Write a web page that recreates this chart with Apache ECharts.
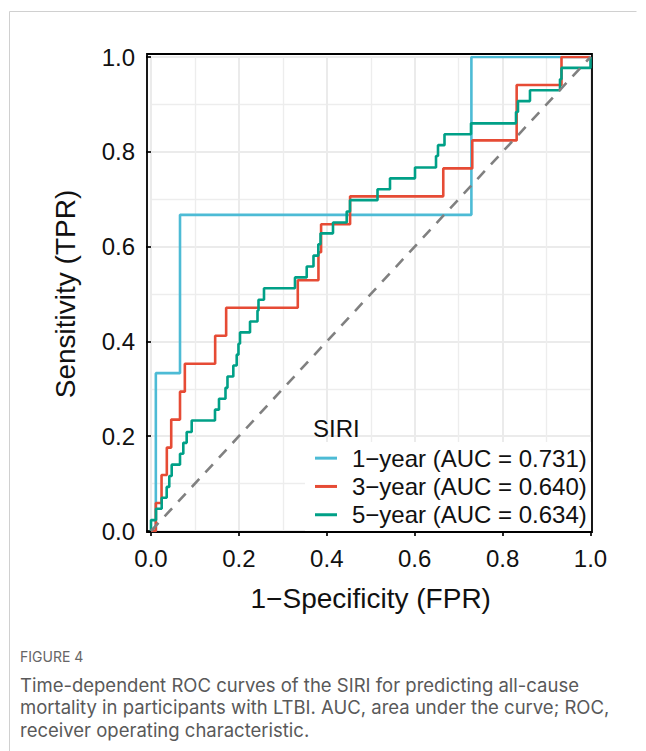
<!DOCTYPE html>
<html>
<head>
<meta charset="utf-8">
<script src="https://cdn.jsdelivr.net/npm/echarts@6/dist/echarts.min.js"></script>
<style>
html,body{margin:0;padding:0;background:#fff;}
#chart{width:646px;height:751px;}
</style>
</head>
<body>
<div id="chart"></div>
<script>
// ---- data ----
const seriesNames = ['1\u2212year (AUC = 0.731)', '3\u2212year (AUC = 0.640)', '5\u2212year (AUC = 0.634)'];
const legendTitle = 'SIRI';
const xTicks = [0, 0.2, 0.4, 0.6, 0.8, 1.0];
const yTicks = [0, 0.2, 0.4, 0.6, 0.8, 1.0];

// step points: FPR where TPR steps up, and new TPR level
const fpr1 = [0, 0.011, 0.066, 0.729, 1];
const tpr1 = [0, 0.333, 0.667, 1, 1];

const fpr3 = [0, 0.011, 0.024, 0.036, 0.046, 0.066, 0.077, 0.146, 0.171, 0.334, 0.381, 0.387, 0.453, 0.665, 0.731, 0.832, 0.934, 1];
const tpr3 = [0, 0.059, 0.118, 0.176, 0.235, 0.294, 0.353, 0.412, 0.471, 0.529, 0.588, 0.647, 0.706, 0.765, 0.824, 0.941, 1, 1];

const fpr5 = [0, 0, 0.0114, 0.0243, 0.0357, 0.0416, 0.0471, 0.066, 0.0735, 0.0812, 0.0926,
  0.1456, 0.1547, 0.1695, 0.174, 0.1873, 0.195, 0.199, 0.2025, 0.2253, 0.2423,
  0.2446, 0.2571, 0.3276, 0.3543, 0.3697, 0.3807, 0.3857, 0.4141, 0.4453, 0.4528,
  0.5154, 0.5438, 0.6007, 0.6485, 0.653, 0.6678, 0.7281, 0.8305, 0.835, 0.8623,
  0.9306, 0.934, 1.0];
const tpr5 = [0, 0.023, 0.047, 0.070, 0.093, 0.116, 0.140, 0.163, 0.186, 0.209, 0.233,
  0.256, 0.279, 0.302, 0.326, 0.349, 0.372, 0.395, 0.419, 0.442, 0.465,
  0.488, 0.512, 0.535, 0.558, 0.581, 0.605, 0.628, 0.651, 0.674, 0.698,
  0.721, 0.744, 0.767, 0.791, 0.814, 0.837, 0.860, 0.884, 0.907, 0.930,
  0.953, 0.977, 1.0];

const refX = [0, 1];
const refY = [0, 1];

const colors = ['#4DBBD5', '#E64B35', '#00A087'];

const captionHead = 'FIGURE 4';
const captionLines = [
  'Time-dependent ROC curves of the SIRI for predicting all-cause',
  'mortality in participants with LTBI. AUC, area under the curve; ROC,',
  'receiver operating characteristic.'
];

// ---- chart ----
const zip = (a, b) => a.map((v, i) => [v, b[i]]);
const FONT = '"Liberation Sans", Arial, sans-serif';
const CAPFONT = 'Inter, "Open Sans", sans-serif';
const chart = echarts.init(document.getElementById('chart'), null, {renderer: 'svg'});

const fmt = v => v.toFixed(1);

const option = {
  backgroundColor: '#fff',
  animation: false,
  title: {
    text: legendTitle, left: 308, top: 411, padding: 5,
    textStyle: {fontFamily: FONT, fontSize: 24, fontWeight: 'normal', color: '#111'}
  },
  legend: {
    orient: 'vertical', left: 305, top: 442,
    padding: [2, 4, 2, 10],
    backgroundColor: '#fff',
    itemGap: 0, itemWidth: 22, itemHeight: 3, icon: 'rect',
    textStyle: {fontFamily: FONT, fontSize: 24, color: '#111', lineHeight: 28.3, padding: [0, 0, 0, 10]},
    data: seriesNames
  },
  grid: [
    {left: 151, right: 55.5, top: 57, bottom: 220, containLabel: false},
    {left: 147, right: 54, top: 54, bottom: 219, show: true, borderColor: '#000', borderWidth: 1.8, backgroundColor: 'transparent', z: 3}
  ],
  xAxis: [
    {
      type: 'value', gridIndex: 0, min: xTicks[0], max: xTicks[xTicks.length - 1], interval: 0.2, offset: 1,
      name: '1\u2212Specificity (FPR)', nameLocation: 'middle', nameGap: 52,
      nameTextStyle: {fontFamily: FONT, fontSize: 28, color: '#111'},
      axisLine: {show: false},
      axisTick: {show: true, length: 5, lineStyle: {color: '#111', width: 1.8}},
      axisLabel: {formatter: fmt, fontFamily: FONT, fontSize: 24, color: '#111', margin: 14},
      splitLine: {show: true, lineStyle: {color: '#ebebeb', width: 2}},
      minorTick: {show: false, splitNumber: 2},
      minorSplitLine: {show: true, lineStyle: {color: '#ededed', width: 1.4}}
    },
    {type: 'value', gridIndex: 1, show: false, min: 0, max: 1, splitLine: {show: false}}
  ],
  yAxis: [
    {
      type: 'value', gridIndex: 0, min: yTicks[0], max: yTicks[yTicks.length - 1], interval: 0.2, offset: 4,
      name: 'Sensitivity (TPR)', nameLocation: 'middle', nameGap: 68,
      nameTextStyle: {fontFamily: FONT, fontSize: 28, color: '#111'},
      axisLine: {show: false},
      axisTick: {show: true, length: 5, lineStyle: {color: '#111', width: 1.8}},
      axisLabel: {formatter: fmt, fontFamily: FONT, fontSize: 24, color: '#111', margin: 12},
      splitLine: {show: true, lineStyle: {color: '#ebebeb', width: 2}},
      minorTick: {show: false, splitNumber: 2},
      minorSplitLine: {show: true, lineStyle: {color: '#ededed', width: 1.4}}
    },
    {type: 'value', gridIndex: 1, show: false, min: 0, max: 1, splitLine: {show: false}}
  ],
  series: [
    {name: seriesNames[0], type: 'line', step: 'end', data: zip(fpr1, tpr1), showSymbol: false, symbol: 'none',
      color: colors[0], lineStyle: {color: colors[0], width: 2.6}, z: 3},
    {name: seriesNames[1], type: 'line', step: 'end', data: zip(fpr3, tpr3), showSymbol: false, symbol: 'none',
      color: colors[1], lineStyle: {color: colors[1], width: 2.6}, z: 4},
    {name: seriesNames[2], type: 'line', step: 'end', data: zip(fpr5, tpr5), showSymbol: false, symbol: 'none',
      color: colors[2], lineStyle: {color: colors[2], width: 2.6}, z: 5},
    {name: 'ref', type: 'line', data: zip(refX, refY), showSymbol: false, symbol: 'none',
      lineStyle: {color: '#808080', width: 2.6, type: [11, 9]}, z: 6}
  ],
  graphic: [
    {type: 'line', shape: {x1: 9.5, y1: 11.5, x2: 636.5, y2: 11.5}, style: {stroke: '#d0d0d0', lineWidth: 1}, silent: true},
    {type: 'line', shape: {x1: 9.5, y1: 11.5, x2: 9.5, y2: 751}, style: {stroke: '#d0d0d0', lineWidth: 1}, silent: true},
    {type: 'text', left: 20, top: 649, style: {text: captionHead, font: '14px ' + CAPFONT, fill: '#666'}},
    {type: 'text', left: 20, top: 675, style: {text: captionLines[0], font: '18.5px ' + CAPFONT, fill: '#595959'}},
    {type: 'text', left: 20, top: 697.5, style: {text: captionLines[1], font: '18.5px ' + CAPFONT, fill: '#595959'}},
    {type: 'text', left: 20, top: 720, style: {text: captionLines[2], font: '18.5px ' + CAPFONT, fill: '#595959'}}
  ]
};
chart.setOption(option);
</script>
</body>
</html>
